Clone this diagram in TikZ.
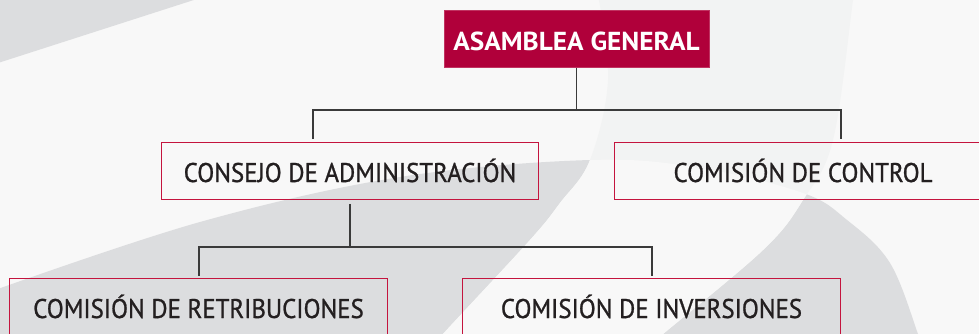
\documentclass[tikz,border=0pt]{standalone}
\usepackage{fontspec}
\setmainfont{PT Sans}
\newfontfamily\orgfont[FakeStretch=0.92,FakeBold=0.9]{PT Sans}
\newfontfamily\orgbold[FakeStretch=1.05]{PT Sans Bold}
\usetikzlibrary{calc}
\definecolor{bgc}{HTML}{F8F8F8}
\definecolor{swoosh}{HTML}{DCDDDF}
\definecolor{faint}{HTML}{F2F3F3}
\definecolor{crimson}{HTML}{B0003A}
\definecolor{rimc}{HTML}{C4143E}
\definecolor{linec}{HTML}{3A3A3A}
\definecolor{txt}{HTML}{231F20}
\tikzset{
  topbox/.style={draw=crimson!80!white, fill=crimson, line width=1pt, minimum width=265pt, minimum height=57pt, inner sep=0pt,
    text=white, font=\orgbold\fontsize{26}{30}\selectfont, text height=24pt, text depth=0pt},
  orgbox/.style={draw=rimc, line width=1.2pt, minimum width=377.5pt, minimum height=56.5pt, inner sep=0pt,
    text=txt, font=\orgfont\fontsize{27}{30}\selectfont, text height=22pt, text depth=0pt},
  conn/.style={draw=linec, line width=1.6pt, line join=miter}
}
\begin{document}
\begin{tikzpicture}[x=1pt,y=-1pt]
\useasboundingbox (0,0) rectangle (979,334);
\clip (0,0) rectangle (979,334);
% background
\fill[bgc] (0,0) rectangle (979,334);
\fill[swoosh] (-2,-2) -- (200,-2) -- (-2,63) -- cycle;
\fill[swoosh] plot[smooth, tension=0.6] coordinates {(-5,290) (200,222) (400,177) (590,160) (700,168) (803,193) (847,220) (890,263) (918,334) (921,345)} -- (-5,345) -- cycle;
\fill[faint] plot[smooth, tension=0.6] coordinates {(598,-5) (608,80) (590,160) (560,203) (530,240) (443,334) (435,345)}
   -- plot[smooth, tension=0.6] coordinates {(650,345) (663,334) (763,250) (803,200) (833,140) (853,0) (854,-5)} -- cycle;
\begin{scope}
\clip plot[smooth, tension=0.6] coordinates {(-5,290) (200,222) (400,177) (590,160) (700,168) (803,193) (847,220) (890,263) (918,334) (921,345)} -- (-5,345) -- cycle;
\fill[bgc] plot[smooth, tension=0.6] coordinates {(598,-5) (608,80) (590,160) (560,203) (530,240) (443,334) (435,345)}
   -- plot[smooth, tension=0.6] coordinates {(650,345) (663,334) (763,250) (803,200) (833,140) (853,0) (854,-5)} -- cycle;
\end{scope}
% nodes
\node[topbox] (AG) at (576.5,38.7) {ASAMBLEA GENERAL};
\node[orgbox] (CA) at (350,171) {CONSEJO DE ADMINISTRACIÓN};
\node[orgbox] (CC) at (803,171) {COMISIÓN DE CONTROL};
\node[orgbox] (CR) at (198.5,307) {COMISIÓN DE RETRIBUCIONES};
\node[orgbox] (CI) at (651.5,307) {COMISIÓN DE INVERSIONES};
% connectors
\coordinate (hL) at (313,110);
\coordinate (hR) at (841,110);
\coordinate (lL) at (199,247);
\coordinate (lR) at (652,247);
\draw[conn] (AG.south) -- (AG.south |- hL);
\draw[conn] ($(hL |- CA.north)+(0,-3)$) -- (hL) -- (hR) -- ($(hR |- CC.north)+(0,-3)$);
\draw[conn] ($(CA.south)+(0,4)$) -- (CA.south |- lL);
\draw[conn] ($(lL |- CR.north)+(0,-2.5)$) -- (lL) -- (lR) -- ($(lR |- CI.north)+(0,-2.5)$);
\end{tikzpicture}
\end{document}
